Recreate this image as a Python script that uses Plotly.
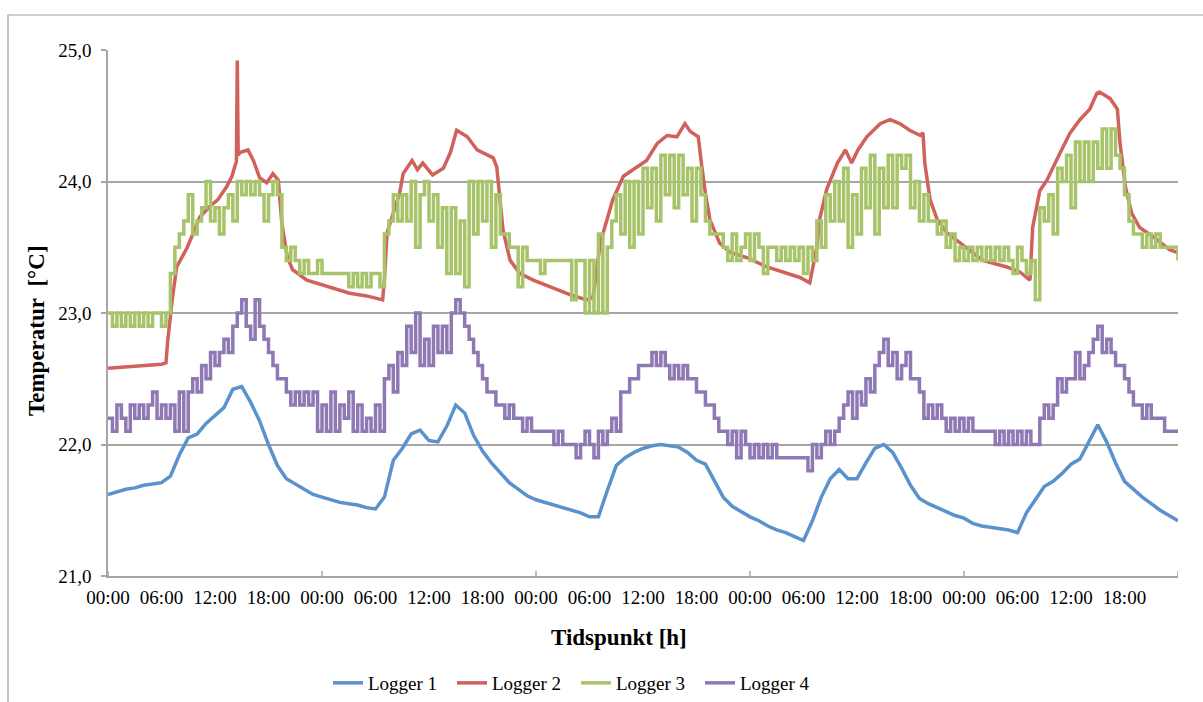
import numpy as np
import plotly.graph_objects as go

# ---- data -------------------------------------------------------------
# Logger 1: hourly readings, hour 0 .. 120
logger1_temp = [
    21.62, 21.64, 21.66, 21.67, 21.69, 21.70, 21.71, 21.76, 21.92, 22.05, 22.08, 22.16,
    22.22, 22.28, 22.42, 22.44, 22.32, 22.18, 22.00, 21.84, 21.74, 21.70, 21.66, 21.62,
    21.60, 21.58, 21.56, 21.55, 21.54, 21.52, 21.51, 21.60, 21.88, 21.97, 22.08, 22.11,
    22.03, 22.02, 22.14, 22.30, 22.24, 22.07, 21.95, 21.86, 21.78, 21.71, 21.66, 21.61,
    21.58, 21.56, 21.54, 21.52, 21.50, 21.48, 21.45, 21.45, 21.65, 21.84, 21.90, 21.94,
    21.97, 21.99, 22.00, 21.99, 21.98, 21.94, 21.88, 21.85, 21.72, 21.60, 21.53, 21.49,
    21.45, 21.42, 21.38, 21.35, 21.33, 21.30, 21.27, 21.42, 21.60, 21.74, 21.81, 21.74,
    21.74, 21.86, 21.97, 22.00, 21.94, 21.82, 21.69, 21.59, 21.55, 21.52, 21.49, 21.46,
    21.44, 21.40, 21.38, 21.37, 21.36, 21.35, 21.33, 21.48, 21.58, 21.68, 21.72, 21.78,
    21.85, 21.89, 22.02, 22.15, 22.02, 21.86, 21.72, 21.66, 21.60, 21.55, 21.50, 21.46,
    21.42,
]

# Logger 2: readings at irregular times (hours)
logger2_hours = [
    0, 2, 4, 6, 6.5, 6.7, 7.2, 7.7, 8.9, 10.3, 11.4, 12.3, 13.3, 13.9, 14.2, 14.4,
    14.5, 14.6, 14.8, 15.7, 16.3, 17.0, 17.8, 18.5, 19.1, 19.5, 20.1, 20.7, 22.3,
    24.6, 27.1, 29.0, 30.8, 31.0, 31.3, 32.7, 33.1, 34.1, 34.7, 35.3, 36.4, 37.6,
    38.4, 39.1, 40.3, 41.4, 43.2, 43.6, 44.0, 44.3, 45.1, 46.2, 47.7, 49.6, 51.8,
    53.7, 54.4, 55.2, 56.0, 56.6, 57.8, 59.3, 60.4, 61.6, 62.7, 63.8, 64.7, 65.3,
    66.2, 66.6, 67.0, 67.5, 68.6, 69.8, 71.7, 73.9, 76.1, 77.6, 78.7, 79.1, 79.5,
    79.8, 80.6, 81.8, 82.7, 83.4, 84.1, 85.1, 86.6, 87.7, 88.8, 89.9, 91.1, 91.4,
    91.6, 92.2, 93.0, 94.1, 95.6, 98.1, 100.8, 102.3, 103.4, 103.7, 104.5, 105.3,
    106.8, 107.9, 109.0, 110.1, 110.9, 111.2, 112.4, 113.2, 113.5, 114.1, 114.8,
    115.7, 117.2, 119.1, 120.0,
]
logger2_temp = [
    22.58, 22.59, 22.60, 22.61, 22.62, 22.79, 23.10, 23.35, 23.50, 23.73, 23.81, 23.86,
    23.96, 24.04, 24.11, 24.15, 24.92, 24.20, 24.22, 24.24, 24.16, 24.03, 23.99, 24.06,
    24.01, 23.68, 23.43, 23.33, 23.25, 23.20, 23.15, 23.13, 23.10, 23.25, 23.61, 23.91,
    24.06, 24.16, 24.09, 24.14, 24.05, 24.10, 24.22, 24.39, 24.34, 24.24, 24.18, 24.11,
    23.86, 23.63, 23.40, 23.30, 23.25, 23.20, 23.14, 23.10, 23.12, 23.53, 23.73, 23.86,
    24.04, 24.11, 24.16, 24.29, 24.35, 24.34, 24.44, 24.38, 24.34, 24.11, 23.91, 23.71,
    23.53, 23.46, 23.42, 23.35, 23.30, 23.27, 23.23, 23.35, 23.50, 23.71, 23.94, 24.14,
    24.24, 24.14, 24.24, 24.34, 24.44, 24.47, 24.44, 24.39, 24.35, 24.37, 24.14, 23.86,
    23.71, 23.61, 23.53, 23.40, 23.35, 23.31, 23.25, 23.65, 23.93, 24.01, 24.22, 24.37,
    24.47, 24.55, 24.67, 24.68, 24.63, 24.55, 24.29, 23.96, 23.76, 23.65, 23.58, 23.48,
    23.46,
]

# Logger 3: half-hourly readings (0.1 degC resolution), hour 0 .. 120
logger3_temp = [
    23.0, 22.9, 23.0, 22.9, 23.0, 22.9, 23.0, 22.9, 23.0, 22.9, 23.0, 23.0,
    22.9, 23.0, 23.3, 23.5, 23.6, 23.7, 23.9, 23.6, 23.7, 23.8, 24.0, 23.7,
    23.8, 23.6, 23.8, 23.9, 23.7, 24.0, 23.9, 24.0, 23.9, 24.0, 23.9, 23.7,
    23.9, 24.0, 23.9, 23.5, 23.4, 23.5, 23.4, 23.3, 23.4, 23.3, 23.3, 23.4,
    23.3, 23.3, 23.3, 23.3, 23.3, 23.3, 23.2, 23.3, 23.2, 23.3, 23.2, 23.3,
    23.3, 23.2, 23.6, 23.7, 23.9, 23.7, 23.9, 23.7, 24.0, 23.5, 23.9, 24.0,
    23.7, 23.9, 23.5, 23.8, 23.3, 23.8, 23.3, 23.7, 23.2, 24.0, 23.6, 24.0,
    23.7, 24.0, 23.5, 23.9, 23.6, 23.6, 23.5, 23.5, 23.2, 23.5, 23.4, 23.4,
    23.4, 23.3, 23.4, 23.4, 23.4, 23.4, 23.4, 23.4, 23.1, 23.4, 23.4, 23.0,
    23.4, 23.0, 23.6, 23.0, 23.5, 23.7, 23.9, 23.6, 24.0, 23.5, 24.0, 23.6,
    24.1, 23.8, 24.1, 23.7, 24.2, 23.9, 24.2, 23.8, 24.2, 23.9, 24.1, 23.7,
    24.1, 23.9, 23.7, 23.6, 23.6, 23.6, 23.5, 23.4, 23.6, 23.4, 23.5, 23.6,
    23.4, 23.6, 23.5, 23.3, 23.5, 23.5, 23.4, 23.5, 23.4, 23.5, 23.4, 23.5,
    23.3, 23.5, 23.4, 23.7, 23.5, 23.9, 23.7, 24.0, 23.7, 24.1, 23.5, 23.9,
    23.6, 24.1, 23.8, 24.2, 23.6, 24.1, 23.8, 24.2, 23.8, 24.2, 24.1, 24.2,
    23.8, 24.0, 23.7, 23.9, 23.7, 23.7, 23.6, 23.7, 23.5, 23.6, 23.4, 23.5,
    23.4, 23.5, 23.4, 23.5, 23.4, 23.5, 23.4, 23.5, 23.4, 23.5, 23.4, 23.3,
    23.5, 23.4, 23.3, 23.4, 23.1, 23.8, 23.7, 23.9, 23.6, 24.1, 24.0, 24.2,
    23.8, 24.3, 24.0, 24.3, 24.0, 24.3, 24.1, 24.4, 24.1, 24.4, 24.2, 24.1,
    23.9, 23.7, 23.6, 23.6, 23.5, 23.6, 23.5, 23.6, 23.5, 23.5, 23.5, 23.5,
    23.4,
]

# Logger 4: half-hourly readings (0.1 degC resolution), hour 0 .. 120
logger4_temp = [
    22.2, 22.1, 22.3, 22.2, 22.1, 22.3, 22.2, 22.3, 22.2, 22.3, 22.4, 22.2,
    22.3, 22.2, 22.3, 22.1, 22.4, 22.1, 22.4, 22.5, 22.4, 22.6, 22.5, 22.7,
    22.6, 22.7, 22.8, 22.7, 22.9, 23.0, 23.1, 22.9, 22.8, 23.1, 22.9, 22.8,
    22.7, 22.6, 22.5, 22.5, 22.4, 22.3, 22.4, 22.3, 22.4, 22.3, 22.4, 22.1,
    22.3, 22.1, 22.4, 22.1, 22.3, 22.2, 22.4, 22.1, 22.3, 22.1, 22.2, 22.1,
    22.3, 22.1, 22.5, 22.6, 22.4, 22.7, 22.6, 22.9, 22.7, 23.0, 22.6, 22.8,
    22.6, 22.9, 22.7, 22.9, 22.7, 23.0, 23.1, 23.0, 22.9, 22.8, 22.7, 22.6,
    22.5, 22.4, 22.4, 22.3, 22.3, 22.2, 22.3, 22.2, 22.2, 22.1, 22.2, 22.1,
    22.1, 22.1, 22.1, 22.1, 22.0, 22.1, 22.0, 22.0, 22.0, 21.9, 22.0, 22.1,
    22.0, 21.9, 22.1, 22.0, 22.1, 22.2, 22.1, 22.4, 22.4, 22.5, 22.5, 22.6,
    22.6, 22.6, 22.7, 22.6, 22.7, 22.6, 22.5, 22.6, 22.5, 22.6, 22.5, 22.5,
    22.4, 22.4, 22.3, 22.3, 22.2, 22.1, 22.1, 22.0, 22.1, 21.9, 22.1, 22.0,
    21.9, 22.0, 21.9, 22.0, 21.9, 22.0, 21.9, 21.9, 21.9, 21.9, 21.9, 21.9,
    21.9, 21.8, 22.0, 21.9, 22.0, 22.1, 22.0, 22.1, 22.2, 22.3, 22.4, 22.2,
    22.4, 22.3, 22.5, 22.4, 22.6, 22.7, 22.8, 22.6, 22.7, 22.5, 22.6, 22.7,
    22.5, 22.5, 22.4, 22.2, 22.3, 22.2, 22.3, 22.2, 22.1, 22.2, 22.1, 22.2,
    22.1, 22.2, 22.1, 22.1, 22.1, 22.1, 22.1, 22.0, 22.1, 22.0, 22.1, 22.0,
    22.1, 22.0, 22.1, 22.0, 22.0, 22.2, 22.3, 22.2, 22.3, 22.5, 22.4, 22.5,
    22.5, 22.7, 22.5, 22.6, 22.7, 22.8, 22.9, 22.7, 22.8, 22.7, 22.6, 22.6,
    22.5, 22.4, 22.3, 22.3, 22.2, 22.3, 22.2, 22.2, 22.2, 22.1, 22.1, 22.1,
    22.1,
]

series_names = ["Logger 1", "Logger 2", "Logger 3", "Logger 4"]
series_colors = ["#5a92cd", "#d0615b", "#a8c46a", "#8f79b4"]
tick_labels = ["00:00", "06:00", "12:00", "18:00"]
n_days = 5

# sample times in hours
hours_hourly = np.arange(len(logger1_temp)) * 1.0
hours_half = np.arange(len(logger3_temp)) * 0.5

FONT = "Liberation Serif"
GRID = "#a6a6a6"
LW = 3.5

fig = go.Figure()
fig.add_trace(go.Scatter(x=hours_hourly, y=logger1_temp, name=series_names[0],
                         mode="lines", line=dict(color=series_colors[0], width=LW)))
fig.add_trace(go.Scatter(x=logger2_hours, y=logger2_temp, name=series_names[1],
                         mode="lines", line=dict(color=series_colors[1], width=LW)))
fig.add_trace(go.Scatter(x=hours_half, y=logger3_temp, name=series_names[2],
                         mode="lines", line=dict(color=series_colors[2], width=LW, shape="hv")))
fig.add_trace(go.Scatter(x=hours_half, y=logger4_temp, name=series_names[3],
                         mode="lines", line=dict(color=series_colors[3], width=LW, shape="hv")))

x_tickvals = [6 * k for k in range(4 * n_days)]
x_ticktext = [tick_labels[k % 4] for k in range(4 * n_days)]

# plot-area geometry in pixels (used to place paper-referenced items)
W, H = 1203, 702
L, R, T, B = 108, 25, 50, 126
pw, ph = W - L - R, H - T - B


def px_x(p):
    return (p - L) / pw


def px_y(p):
    return (H - B - p) / ph


shapes = []
# day-boundary tick marks crossing the time axis
for d in range(n_days + 1):
    shapes.append(dict(type="line", xref="x", yref="y", x0=24 * d, x1=24 * d,
                       ysizemode="pixel", yanchor=21, y0=-5, y1=5,
                       line=dict(color=GRID, width=1.5)))
# outer chart frame
shapes.append(dict(type="rect", xref="paper", yref="paper",
                   x0=px_x(8), x1=px_x(W + 20), y0=px_y(H + 20), y1=px_y(15),
                   line=dict(color="#a0a0a0", width=1.2), fillcolor="rgba(0,0,0,0)"))

fig.update_layout(
    width=W, height=H,
    margin=dict(l=L, r=R, t=T, b=B, pad=0, autoexpand=False),
    paper_bgcolor="white", plot_bgcolor="white",
    separators=", ",
    font=dict(family=FONT, size=19, color="black"),
    showlegend=True,
    legend=dict(orientation="h", xref="container", yref="container",
                x=328 / W, xanchor="left", y=(H - 683) / H, yanchor="middle",
                font=dict(family=FONT, size=19, color="black"),
                entrywidth=79, itemwidth=30, bgcolor="rgba(0,0,0,0)", traceorder="normal"),
    shapes=shapes,
    annotations=[
        dict(text="<b>Tidspunkt [h]</b>", xref="paper", yref="paper",
             x=px_x(619), y=px_y(637), xanchor="center", yanchor="middle",
             showarrow=False, font=dict(family=FONT, size=23, color="black")),
        dict(text="<b>Temperatur\u00a0 [°C]</b>", xref="paper", yref="paper",
             x=px_x(36), y=px_y(331), xanchor="center", yanchor="middle",
             showarrow=False, textangle=-90,
             font=dict(family=FONT, size=23, color="black")),
    ],
)

fig.update_xaxes(
    range=[0, 24 * n_days], tickmode="array", tickvals=x_tickvals, ticktext=x_ticktext,
    showgrid=False, zeroline=False, showline=True, linecolor=GRID, linewidth=1.5,
    ticks="", ticklabelstandoff=3,
    tickfont=dict(family=FONT, size=19, color="black"),
)
fig.update_yaxes(
    range=[21, 25], tickmode="linear", tick0=21, dtick=1, tickformat=".1f",
    showgrid=True, gridcolor=GRID, gridwidth=1.5, zeroline=False,
    showline=True, linecolor=GRID, linewidth=1.5,
    ticks="outside", ticklen=5, tickcolor=GRID, tickwidth=1.5, ticklabelstandoff=6,
    tickfont=dict(family=FONT, size=19, color="black"),
)

fig.write_html("out.html")
